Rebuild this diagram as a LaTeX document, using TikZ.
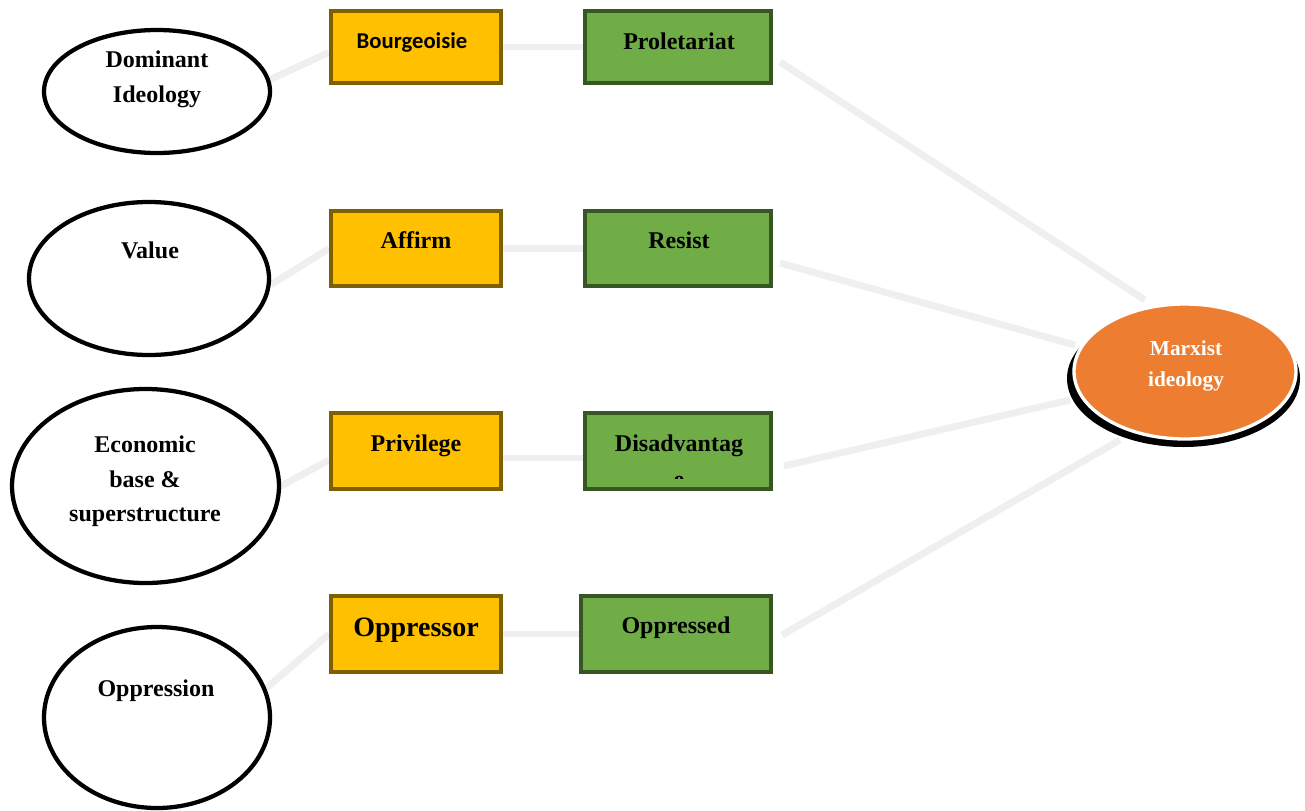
\documentclass[tikz,border=0pt]{standalone}
\usepackage{fontspec}
\setmainfont{Liberation Serif}
\newfontfamily\carlito{Carlito}
\usetikzlibrary{shapes.geometric,backgrounds}
\definecolor{boxyellow}{HTML}{FFC000}
\definecolor{yborder}{HTML}{7F6000}
\definecolor{boxgreen}{HTML}{70AD47}
\definecolor{gborder}{HTML}{375623}
\definecolor{conngray}{HTML}{EFEFEF}
\definecolor{marxorange}{HTML}{ED7D31}
\begin{document}
\begin{tikzpicture}[x=0.75pt,y=-0.75pt,
  ell/.style={ellipse, draw=black, line width=3.2pt, fill=white, inner sep=0pt},
  ybox/.style={rectangle, draw=yborder, fill=boxyellow, line width=3pt, inner sep=0pt, minimum width=127.5pt},
  gbox/.style={rectangle, draw=gborder, fill=boxgreen, line width=3pt, inner sep=0pt, minimum width=139.5pt},
  conn/.style={draw=conngray, line width=5.2pt},
  lbl/.style={anchor=base, inner sep=0pt, font=\bfseries\fontsize{18}{21}\selectfont},
  mlbl/.style={anchor=base, inner sep=0pt, text=white, font=\bfseries\fontsize{16}{19}\selectfont}]
\useasboundingbox (0,0) rectangle (1305,810);

% left ellipses
\node[ell, minimum width=169.5pt, minimum height=92.25pt] (dom) at (157,91.5) {};
\node[ell, minimum width=180pt, minimum height=114.75pt] (val) at (149,278.5) {};
\node[ell, minimum width=200.25pt, minimum height=145.5pt] (eco) at (145.5,486) {};
\node[ell, minimum width=169.5pt, minimum height=135.75pt] (opp) at (157,717.5) {};

% yellow boxes
\node[ybox, minimum height=54pt] (bour) at (416,47) {};
\node[ybox, minimum height=56.25pt] (aff) at (416,248.5) {};
\node[ybox, minimum height=57pt] (priv) at (416,451) {};
\node[ybox, minimum height=57pt] (oppr) at (416,634) {};

% green boxes
\node[gbox, minimum height=54pt] (prol) at (678,47) {};
\node[gbox, minimum height=56.25pt] (res) at (678,248.5) {};
\node[gbox, minimum height=57pt] (dis) at (678,451) {};
\node[gbox, minimum height=57pt, minimum width=142.5pt] (oppd) at (676,634) {};

% Marxist ideology
\node[ellipse, fill=black, inner sep=0pt, minimum width=174.75pt, minimum height=102.75pt] (marxsh) at (1183.5,378.5) {};
\node[ellipse, fill=marxorange, draw=white, line width=2.5pt, inner sep=0pt, minimum width=166.5pt, minimum height=101.25pt] (marx) at (1185,371.5) {};

% labels
\node[lbl] (tdom1) at (157,67) {Dominant};
\node[lbl] (tdom2) at (157,102) {Ideology};
\node[lbl] (tval) at (150,258) {Value};
\node[lbl] (teco1) at (145,452) {Economic};
\node[lbl] (teco2) at (145,487) {base \&};
\node[lbl] (teco3) at (145,521) {superstructure};
\node[lbl] (topp) at (156,696) {Oppression};

\node[lbl, font=\carlito\bfseries\fontsize{17}{20}\selectfont] (tbour) at (412,48) {Bourgeoisie};
\node[lbl] (tprol) at (679,49) {Proletariat};
\node[lbl] (taff) at (416,248) {Affirm};
\node[lbl] (tres) at (679,248) {Resist};
\node[lbl] (tpriv) at (416,451) {Privilege};
\node[lbl] (tdis) at (679,451) {Disadvantag};
\begin{scope}
  \clip (586,414) rectangle (770,478);
  \node[lbl] (tdis2) at (679,487) {e};
\end{scope}
\node[lbl, font=\bfseries\fontsize{21}{25}\selectfont] (toppr) at (416,636) {Oppressor};
\node[lbl] (toppd) at (676,633) {Oppressed};

\node[mlbl] (tmarx1) at (1186,355) {Marxist};
\node[mlbl] (tmarx2) at (1186,386) {ideology};

% connectors
\begin{scope}[on background layer]
\draw[conn] (dom.6) -- ([yshift=-4pt]bour.west);
\draw[conn] (bour.east) -- (prol.west);
\draw[conn] ([shift={(7,15)}]prol.east) -- ([shift={(-40,-71.5)}]marx.center);
\draw[conn] (val.-3) -- (aff.west);
\draw[conn] (aff.east) -- (res.west);
\draw[conn] ([shift={(7,14.5)}]res.east) -- ([shift={(-110,-26.5)}]marx.center);
\draw[conn] (eco.east) -- ([shift={(0,9)}]priv.west);
\draw[conn] ([shift={(0,7)}]priv.east) -- ([shift={(0,7)}]dis.west);
\draw[conn] ([shift={(11,15)}]dis.east) -- ([shift={(-115,28.5)}]marx.center);
\draw[conn] (opp.15) -- (oppr.west);
\draw[conn] (oppr.east) -- (oppd.west);
\draw[conn] ([shift={(9,1)}]oppd.east) -- ([shift={(-65,68.5)}]marx.center);
\end{scope}
\end{tikzpicture}
\end{document}
